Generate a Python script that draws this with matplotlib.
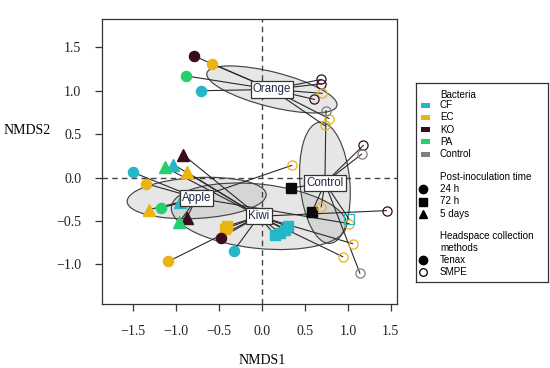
import matplotlib
matplotlib.use("Agg")
import matplotlib.pyplot as plt
from matplotlib.patches import Ellipse, Rectangle
import numpy as np

# NMDS scores
# group, bacteria, time, method
orange_x = [-0.79, -0.58, -0.88, -0.71, 0.69, 0.69, 0.70, 0.61, 0.78, 0.73]
orange_y = [1.40, 1.31, 1.17, 1.00, 1.13, 1.08, 0.97, 0.90, 0.68, 0.60]
orange_bact = ["KO", "EC", "PA", "CF", "KO", "KO", "EC", "KO", "EC", "EC"]
orange_time = ["24h"] * 10
orange_meth = ["Tenax"] * 4 + ["SMPE"] * 6

apple_x = [-1.50, -1.35, -1.32, -1.17, -0.95, -0.875, -0.96, 0.345, 1.015]
apple_y = [0.06, -0.07, -0.37, -0.35, -0.28, -0.46, -0.51, 0.14, -0.53]
apple_bact = ["CF", "EC", "EC", "PA", "CF", "KO", "PA", "EC", "EC"]
apple_time = ["24h", "24h", "5d", "24h", "5d", "5d", "5d", "24h", "24h"]
apple_meth = ["Tenax"] * 7 + ["SMPE"] * 2

kiwi_x = [-0.92, -1.03, -1.13, -0.87, -0.43, -0.41, -0.477, -0.326, -1.09,
          0.15, 0.21, 0.265, 0.30, 1.45, 1.055, 0.94]
kiwi_y = [0.265, 0.15, 0.12, 0.06, -0.59, -0.56, -0.69, -0.84, -0.965,
          -0.66, -0.64, -0.60, -0.56, -0.38, -0.76, -0.91]
kiwi_bact = ["KO", "CF", "PA", "EC", "EC", "EC", "KO", "CF", "EC",
             "CF", "CF", "CF", "CF", "KO", "EC", "EC"]
kiwi_time = ["5d", "5d", "5d", "5d", "72h", "72h", "24h", "24h", "24h",
             "72h", "72h", "72h", "72h", "24h", "24h", "24h"]
kiwi_meth = ["Tenax"] * 13 + ["SMPE"] * 3

control_x = [0.745, 1.18, 1.16, 0.34, 0.58, 0.69, 1.015, 1.14]
control_y = [0.77, 0.37, 0.27, -0.12, -0.40, -0.335, -0.48, -1.10]
control_bact = ["Control", "KO", "Control", "Black", "Black", "EC", "CF", "Control"]
control_time = ["24h", "24h", "24h", "72h", "72h", "24h", "72h", "24h"]
control_meth = ["SMPE", "SMPE", "SMPE", "Tenax", "Tenax", "SMPE", "SMPE", "SMPE"]

# group centres (label positions) and ellipses: cx, cy, width, height, angle
group_names = ["Orange", "Apple", "Kiwi", "Control"]
centre_x = [0.116, -0.76, -0.035, 0.733]
centre_y = [1.015, -0.235, -0.445, -0.06]
ell_w = [1.56, 1.62, 2.05, 1.40]
ell_h = [0.40, 0.47, 0.74, 0.58]
ell_ang = [-14, 3, -6, 95]

legend_bact = ["CF", "EC", "KO", "PA", "Control"]
colors = {"CF": "#25b7c7", "EC": "#eab511", "KO": "#3a0c1c", "PA": "#25cf6e",
          "Control": "#7f7f7f", "Black": "#0a0a0a"}
markers = {"24h": "o", "72h": "s", "5d": "^"}
msize = {"24h": 7.3, "72h": 7.3, "5d": 8.5}

serif = "Liberation Serif"
sans = "Liberation Sans"

fig = plt.figure(figsize=(5.5, 3.68), dpi=100)
ax = fig.add_axes([102 / 550, 1 - 304 / 368, 295 / 550, 285 / 368])
ax.set_xlim(-1.862, 1.572)
ax.set_ylim(-1.455, 1.826)

for i in range(4):
    e = Ellipse((centre_x[i], centre_y[i]), ell_w[i], ell_h[i], angle=ell_ang[i],
                facecolor="#b8b8b8", alpha=0.35, edgecolor="none", zorder=1)
    ax.add_patch(e)
    e2 = Ellipse((centre_x[i], centre_y[i]), ell_w[i], ell_h[i], angle=ell_ang[i],
                 facecolor="none", edgecolor="#444444", lw=0.85, zorder=2)
    ax.add_patch(e2)

ax.axhline(0, color="#444444", lw=1.0, ls=(0, (4, 3)), zorder=2)
ax.axvline(0, color="#444444", lw=1.0, ls=(0, (4, 3)), zorder=2)

groups = [
    (orange_x, orange_y, orange_bact, orange_time, orange_meth),
    (apple_x, apple_y, apple_bact, apple_time, apple_meth),
    (kiwi_x, kiwi_y, kiwi_bact, kiwi_time, kiwi_meth),
    (control_x, control_y, control_bact, control_time, control_meth),
]

for gi, (gx, gy, gb, gt, gm) in enumerate(groups):
    for x, y in zip(gx, gy):
        ax.plot([centre_x[gi], x], [centre_y[gi], y], color="#2a2a2a", lw=0.8, zorder=3)

for gi, (gx, gy, gb, gt, gm) in enumerate(groups):
    for x, y, b, t, m in zip(gx, gy, gb, gt, gm):
        c = colors[b]
        if m == "Tenax":
            ax.plot(x, y, marker=markers[t], ms=msize[t], color=c, mec=c,
                    ls="none", zorder=4)
        else:
            ax.plot(x, y, marker=markers[t], ms=msize[t] - 0.7, mfc="none", mec=c,
                    mew=0.9, ls="none", zorder=4)

for gi, name in enumerate(group_names):
    ax.text(centre_x[gi], centre_y[gi], name, ha="center", va="center",
            fontsize=8.3, family=sans, color="#1e2a44", zorder=6,
            bbox=dict(boxstyle="square,pad=0.18", fc="white", ec="#333333", lw=0.9))

xt = [-1.5, -1.0, -0.5, 0.0, 0.5, 1.0, 1.5]
yt = [-1.0, -0.5, 0.0, 0.5, 1.0, 1.5]
ax.set_xticks(xt)
ax.set_yticks(yt)
ax.set_xticklabels([f"{v:.1f}".replace("-", "\u2212") for v in xt], family=serif, fontsize=10)
ax.set_yticklabels([f"{v:.1f}".replace("-", "\u2212") for v in yt], family=serif, fontsize=10)
ax.tick_params(direction="out", length=5, width=0.9, pad=10, color="#333333", labelcolor="#222222")
for s in ax.spines.values():
    s.set_color("#333333")
    s.set_linewidth(0.9)

fig.text(262 / 550, 1 - 361 / 368, "NMDS1", ha="center", va="center", family=serif, fontsize=10)
fig.text(27 / 550, 1 - 130 / 368, "NMDS2", ha="center", va="center", family=serif, fontsize=10)

# legend panel, laid out in pixel units from its top-left corner
lax = fig.add_axes([416 / 550, 1 - 282 / 368, 132 / 550, 199 / 368])
lax.set_xlim(0, 132)
lax.set_ylim(199, 0)
lax.set_xticks([])
lax.set_yticks([])
for s in lax.spines.values():
    s.set_color("#333333")
    s.set_linewidth(0.9)

fs = 7.1
tx = 24
lax.text(tx, 12, "Bacteria", va="center", family=sans, fontsize=fs)
for i, b in enumerate(legend_bact):
    yy = 22 + i * 12.3
    lax.add_patch(Rectangle((5, yy - 2.5), 9, 5, color=colors[b], lw=0))
    lax.text(tx, yy, b, va="center", family=sans, fontsize=fs)

lax.text(tx, 94, "Post-inoculation time", va="center", family=sans, fontsize=fs)
for i, (t, lab) in enumerate(zip(["24h", "72h", "5d"], ["24 h", "72 h", "5 days"])):
    yy = 106 + i * 12.5
    lax.plot(7, yy, marker=markers[t], ms=6, color="black", ls="none")
    lax.text(tx, yy, lab, va="center", family=sans, fontsize=fs)

lax.text(tx, 153, "Headspace collection", va="center", family=sans, fontsize=fs)
lax.text(tx, 165, "methods", va="center", family=sans, fontsize=fs)
lax.plot(7, 177, marker="o", ms=6, color="black", ls="none")
lax.text(tx, 177, "Tenax", va="center", family=sans, fontsize=fs)
lax.plot(7, 189, marker="o", ms=5.5, mfc="none", mec="black", mew=0.9, ls="none")
lax.text(tx, 189, "SMPE", va="center", family=sans, fontsize=fs)

fig.savefig("out.png", dpi=100)
